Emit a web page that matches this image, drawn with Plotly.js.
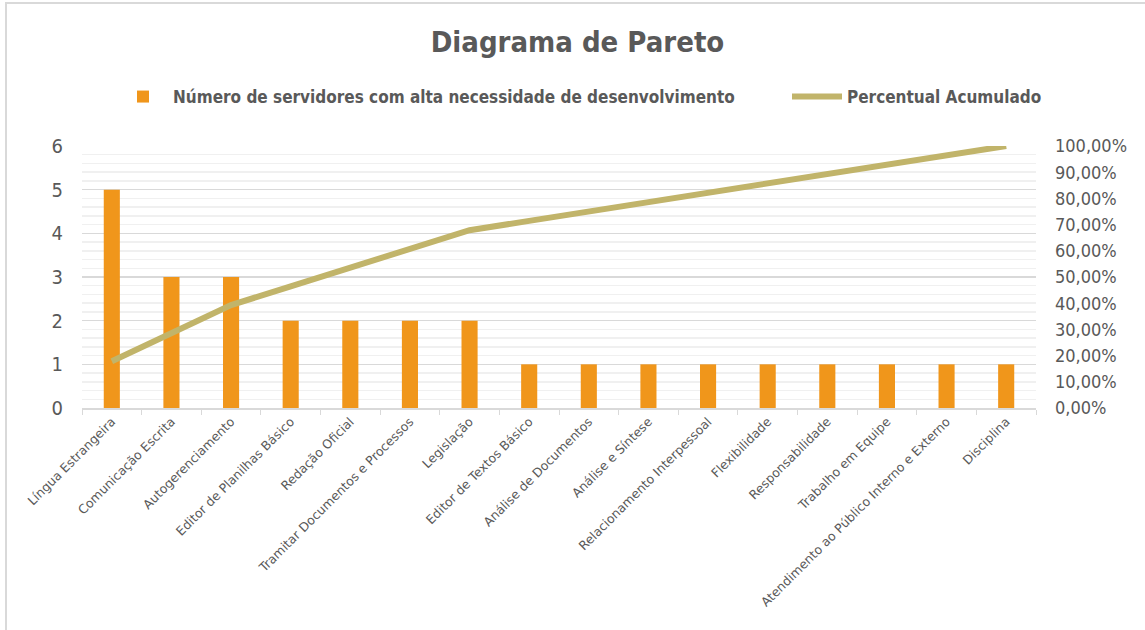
<!DOCTYPE html>
<html>
<head>
<meta charset="utf-8">
<script src="https://cdn.plot.ly/plotly-3.0.1.min.js"></script>
<style>
  html, body { margin: 0; padding: 0; background: #ffffff; overflow: hidden; }
  #frame { position: absolute; left: 5px; top: 2px; width: 1150px; height: 640px;
           border-top: 2px solid #d9d9d9; border-left: 2px solid #d9d9d9; }
  #chart { position: absolute; left: 0; top: 0; width: 1145px; height: 630px; }
</style>
</head>
<body>
<div id="frame"></div>
<div id="chart"></div>
<script>
const categories = [
  "Língua Estrangeira", "Comunicação Escrita", "Autogerenciamento",
  "Editor de Planilhas Básico", "Redação Oficial", "Tramitar Documentos e Processos",
  "Legislação", "Editor de Textos Básico", "Análise de Documentos",
  "Análise e Síntese", "Relacionamento Interpessoal", "Flexibilidade",
  "Responsabilidade", "Trabalho em Equipe", "Atendimento ao Público Interno e Externo",
  "Disciplina"
];
const servidores = [5, 3, 3, 2, 2, 2, 2, 1, 1, 1, 1, 1, 1, 1, 1, 1];
const percentualAcumulado = [
  0.1786, 0.2857, 0.3929, 0.4643, 0.5357, 0.6071, 0.6786, 0.7143,
  0.7500, 0.7857, 0.8214, 0.8571, 0.8929, 0.9286, 0.9643, 1.0000
];
const leftTicks = [0, 1, 2, 3, 4, 5, 6];
const rightTicks = [0, 0.1, 0.2, 0.3, 0.4, 0.5, 0.6, 0.7, 0.8, 0.9, 1.0];

const FONT_C = "'DejaVu Sans Condensed', 'DejaVu Sans', sans-serif";
const FONT = "'DejaVu Sans', sans-serif";
const GREY = "#595959";

const traces = [
  {
    type: "bar",
    name: "Número de servidores com alta necessidade de desenvolvimento",
    x: categories,
    y: servidores,
    marker: { color: "#F0961B" },
    yaxis: "y",
    legend: "legend",
    hoverinfo: "x+y"
  },
  {
    type: "scatter",
    mode: "lines",
    name: "Percentual Acumulado",
    x: categories,
    y: percentualAcumulado,
    yaxis: "y2",
    legend: "legend2",
    line: { color: "#C1B46A", width: 6, shape: "linear" },
    hoverinfo: "x+y"
  }
];

const legendFont = { family: FONT_C, size: 17, color: GREY, weight: "bold" };

const layout = {
  width: 1145,
  height: 630,
  paper_bgcolor: "rgba(0,0,0,0)",
  plot_bgcolor: "rgba(0,0,0,0)",
  separators: ",.",
  font: { family: FONT_C, color: GREY },
  margin: { l: 82, r: 109, t: 146, b: 222, pad: 0 },
  title: {
    text: "<b>Diagrama de Pareto</b>",
    font: { family: FONT_C, size: 29, color: GREY },
    x: 577.5 / 1145, xanchor: "center",
    y: 1 - 42 / 630, yanchor: "middle", yref: "container"
  },
  bargap: 0.73,
  showlegend: true,
  legend: {
    orientation: "h",
    x: (113 - 82) / 954, xanchor: "left",
    y: (408 - 97) / 262, yanchor: "middle",
    font: legendFont,
    itemwidth: 50
  },
  legend2: {
    orientation: "h",
    x: (787 - 82) / 954, xanchor: "left",
    y: (408 - 97) / 262, yanchor: "middle",
    font: legendFont,
    itemwidth: 50
  },
  xaxis: {
    type: "category",
    tickangle: -45,
    tickfont: { family: FONT, size: 12.5, color: GREY },
    showgrid: false,
    showline: true,
    linecolor: "#d9d9d9",
    linewidth: 1.5,
    ticks: "outside",
    tickson: "boundaries",
    ticklen: 5,
    tickcolor: "#d9d9d9",
    zeroline: false
  },
  yaxis: {
    range: [0, 6],
    tickvals: leftTicks,
    tickfont: { family: FONT_C, size: 20, color: GREY },
    showgrid: true,
    gridcolor: "#d9d9d9",
    gridwidth: 1.5,
    minor: { dtick: 0.2, showgrid: true, gridcolor: "#f0f0f0", gridwidth: 1.5 },
    zeroline: false,
    showline: false,
    ticks: "",
    ticklabelstandoff: 18,
    fixedrange: true
  },
  yaxis2: {
    overlaying: "y",
    side: "right",
    range: [0, 1],
    tickvals: rightTicks,
    tickformat: ".2%",
    tickfont: { family: FONT_C, size: 18, color: GREY },
    showgrid: false,
    zeroline: false,
    showline: false,
    ticks: "",
    ticklabelstandoff: 18,
    fixedrange: true
  }
};

Plotly.newPlot("chart", traces, layout, { displayModeBar: false, staticPlot: true });
</script>
</body>
</html>
